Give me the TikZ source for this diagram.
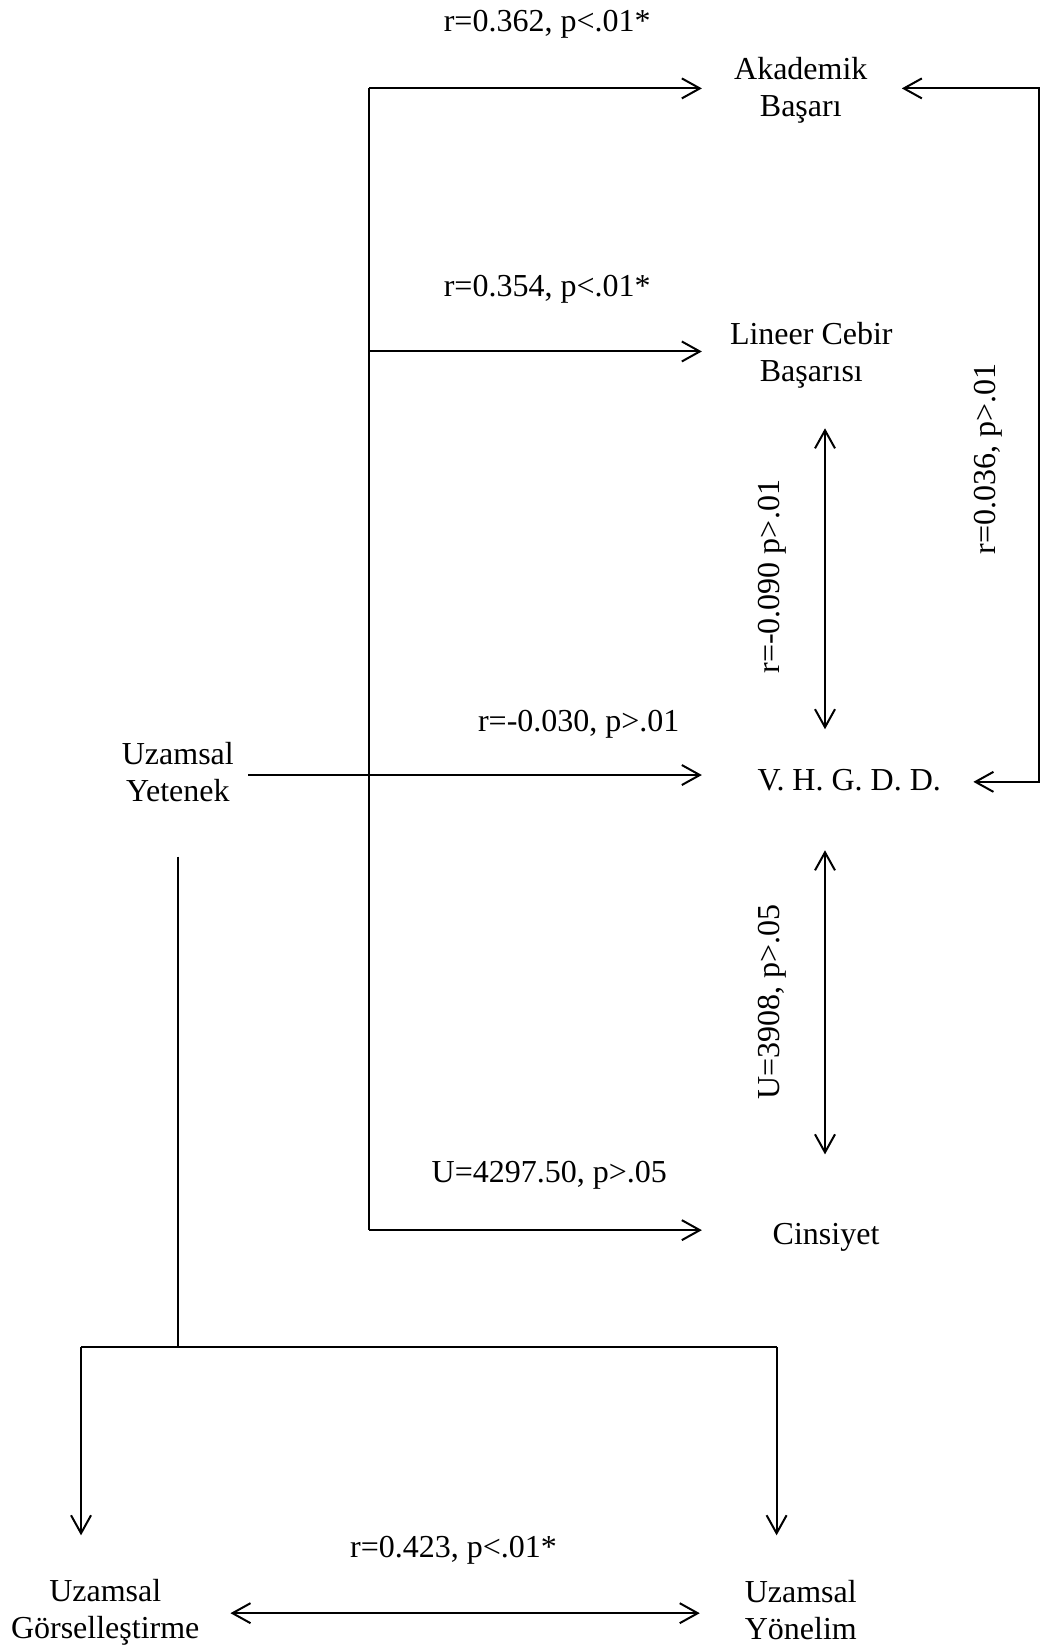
\documentclass[tikz,border=0pt]{standalone}
\usepackage{fontspec}
\setmainfont{Liberation Serif}
\usetikzlibrary{arrows.meta}
\begin{document}
\begin{tikzpicture}[x=0.5262pt,y=-0.5262pt,
  lbl/.style={font=\fontsize{16}{18.4}\selectfont, inner sep=0pt, align=center},
  link/.style={line width=1pt},
  fwd/.style={link, -{Straight Barb[length=9pt,width=10pt]}},
  both/.style={link, {Straight Barb[length=9pt,width=10pt]}-{Straight Barb[length=9pt,width=10pt]}}]
\useasboundingbox (0,0) rectangle (994,1568);

% variables
\node[lbl] (ab)  at (761,86)   {Akademik\\Başarı};
\node[lbl] (lcb) at (771,338)  {Lineer Cebir\\Başarısı};
\node[lbl] (vh)  at (807,741)  {V. H. G. D. D.};
\node[lbl] (cin) at (785,1176) {Cinsiyet};
\node[lbl] (uy)  at (169,734)  {Uzamsal\\Yetenek};
\node[lbl] (ug)  at (100,1532) {Uzamsal\\Görselleştirme};
\node[lbl] (uyo) at (761,1530) {Uzamsal\\Yönelim};

% statistics
\node[lbl, anchor=base] (s1) at (520,30)   {r=0.362, p<.01*};
\node[lbl, anchor=base] (s2) at (520,282)  {r=0.354, p<.01*};
\node[lbl, anchor=base] (s3) at (550,695)  {r=-0.030, p>.01};
\node[lbl, anchor=base] (s4) at (522,1124) {U=4297.50, p>.05};
\node[lbl, anchor=base] (s5) at (431,1480) {r=0.423, p<.01*};
\node[lbl, anchor=base, rotate=90] (s6) at (741,548) {r=-0.090 p>.01};
\node[lbl, anchor=base, rotate=90] (s7) at (946,436) {r=0.036, p>.01};
\node[lbl, anchor=base, rotate=90] (s8) at (741,952) {U=3908, p>.05};

% trunk from Uzamsal Yetenek to the four outcomes
\coordinate (tTop) at (351,84);
\coordinate (tMid) at (351,334);
\coordinate (tBot) at (351,1169);
\coordinate (tipX) at (667,0);
\coordinate (yStart) at (236,736.5);
\draw[link] (tTop) -- (tBot);
\draw[fwd] (tTop) -- (tTop -| tipX);
\draw[fwd] (tMid) -- (tMid -| tipX);
\draw[fwd] (yStart) -- (yStart -| tipX);
\draw[fwd] (tBot) -- (tBot -| tipX);

% Akademik Basari <-> V.H.G.D.D.
\coordinate (abIn) at (857,84);
\coordinate (vhIn) at (925,743);
\coordinate (bx) at (987,0);
\draw[both] (abIn) -- (abIn -| bx) -- (vhIn -| bx) -- (vhIn);

% vertical two-way links
\coordinate (v1a) at (784,407);
\coordinate (v1b) at (784,693);
\coordinate (v2a) at (784,808);
\coordinate (v2b) at (784,1097);
\draw[both] (v1a) -- (v1b);
\draw[both] (v2a) -- (v2b);

% split into the two sub-abilities
\coordinate (yDrop) at (169,814);
\coordinate (split) at (169,1280);
\coordinate (lDown) at (77,1280);
\coordinate (rDown) at (738,1280);
\coordinate (tipY) at (0,1459);
\draw[link] (yDrop) -- (split);
\draw[link] (lDown) -- (rDown);
\draw[fwd] (lDown) -- (lDown |- tipY);
\draw[fwd] (rDown) -- (rDown |- tipY);

% Gorsellestirme <-> Yonelim
\coordinate (gR) at (219,1533);
\coordinate (yL) at (665,1533);
\draw[both] (gR) -- (yL);
\end{tikzpicture}
\end{document}
